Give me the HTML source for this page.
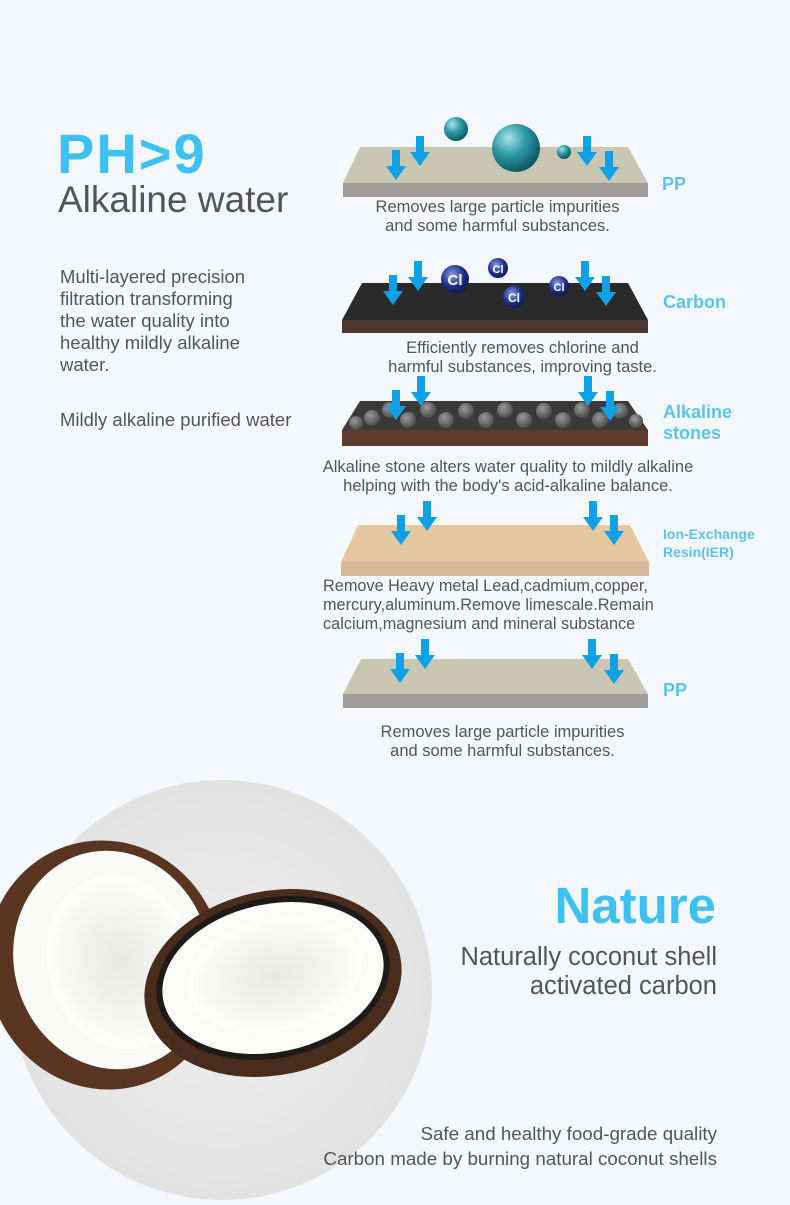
<!DOCTYPE html>
<html><head><meta charset="utf-8"><style>
body{margin:0;width:790px;height:1205px;background:#f4f8fc;position:relative;overflow:hidden;font-family:"Liberation Sans",sans-serif;}
.t{position:absolute;color:#555;white-space:nowrap}
.c{text-align:center}
.b{position:absolute;color:#5bc3ee;font-weight:bold}
</style></head><body>
<svg width="790" height="1205" style="position:absolute;left:0;top:0">
<defs>
<radialGradient id="circ" cx="0.5" cy="0.5" r="0.5"><stop offset="0" stop-color="#f0f0f0"/><stop offset="1" stop-color="#e2e2e2"/></radialGradient>
<radialGradient id="ball" cx="0.35" cy="0.3" r="0.7"><stop offset="0" stop-color="#a8e4e6"/><stop offset="0.5" stop-color="#2e9aa6"/><stop offset="1" stop-color="#0f5a66"/></radialGradient>
<radialGradient id="cl" cx="0.4" cy="0.35" r="0.7"><stop offset="0" stop-color="#8a9ee0"/><stop offset="0.6" stop-color="#1e2f8a"/><stop offset="1" stop-color="#0b164f"/></radialGradient>
<radialGradient id="stone" cx="0.4" cy="0.35" r="0.7"><stop offset="0" stop-color="#9a9a9a"/><stop offset="1" stop-color="#444"/></radialGradient>
<radialGradient id="flesh" cx="0.5" cy="0.5" r="0.5"><stop offset="0" stop-color="#e8e8e6"/><stop offset="0.8" stop-color="#f8f8f6"/><stop offset="1" stop-color="#fff"/></radialGradient>
<g id="arr"><rect x="-4" y="0" width="8" height="17" fill="#0ea1e6"/><polygon points="-10,16 10,16 0,30" fill="#0ea1e6"/></g>
</defs>
<circle cx="222" cy="990" r="210" fill="url(#circ)"/>
<polygon points="360,147 628,147 648,183 343,183" fill="#c9c6b2"/>
<rect x="343" y="183" width="305" height="14" fill="#a09d98"/>
<circle cx="456" cy="129" r="12" fill="url(#ball)"/>
<circle cx="516" cy="148" r="24" fill="url(#ball)"/>
<circle cx="564" cy="152" r="7" fill="url(#ball)"/>
<use href="#arr" x="420" y="136"/><use href="#arr" x="396" y="150"/><use href="#arr" x="587" y="136"/><use href="#arr" x="609" y="151"/>
<polygon points="362,283 628,283 648,320 342,320" fill="#2a2a2a"/>
<rect x="342" y="320" width="306" height="13" fill="#4a3530"/>
<circle cx="455" cy="279" r="14" fill="url(#cl)"/><text x="455" y="285" fill="#fff" font-size="15" text-anchor="middle" font-weight="bold">Cl</text>
<circle cx="498" cy="268" r="10" fill="url(#cl)"/><text x="498" y="273" fill="#fff" font-size="11" text-anchor="middle" font-weight="bold">Cl</text>
<circle cx="514" cy="297" r="11" fill="url(#cl)"/><text x="514" y="302" fill="#fff" font-size="12" text-anchor="middle" font-weight="bold">Cl</text>
<circle cx="559" cy="286" r="10" fill="url(#cl)"/><text x="559" y="291" fill="#fff" font-size="11" text-anchor="middle" font-weight="bold">Cl</text>
<use href="#arr" x="418" y="261"/><use href="#arr" x="393" y="275"/><use href="#arr" x="585" y="261"/><use href="#arr" x="606" y="276"/>
<polygon points="360,401 628,401 648,430 342,430" fill="#3a3a3a"/>
<g fill="url(#stone)">
<circle cx="372" cy="418" r="8"/><circle cx="390" cy="410" r="8"/><circle cx="408" cy="420" r="8"/><circle cx="428" cy="410" r="8"/><circle cx="446" cy="420" r="8"/><circle cx="466" cy="411" r="8"/><circle cx="486" cy="420" r="8"/><circle cx="505" cy="410" r="8"/><circle cx="524" cy="420" r="8"/><circle cx="544" cy="411" r="8"/><circle cx="563" cy="420" r="8"/><circle cx="582" cy="410" r="8"/><circle cx="600" cy="420" r="8"/><circle cx="620" cy="411" r="8"/><circle cx="636" cy="421" r="7"/><circle cx="356" cy="423" r="7"/>
</g>
<rect x="342" y="430" width="306" height="16" fill="#5e3b2c"/>
<use href="#arr" x="421" y="376"/><use href="#arr" x="396" y="390"/><use href="#arr" x="588" y="376"/><use href="#arr" x="610" y="391"/>
<polygon points="358,525 630,525 649,562 341,562" fill="#e4c9a0"/>
<rect x="341" y="562" width="308" height="14" fill="#d8b89a"/>
<use href="#arr" x="427" y="501"/><use href="#arr" x="401" y="515"/><use href="#arr" x="593" y="501"/><use href="#arr" x="614" y="515"/>
<polygon points="361,659 628,659 648,694 343,694" fill="#c9c6b2"/>
<rect x="343" y="694" width="305" height="14" fill="#a09d98"/>
<use href="#arr" x="425" y="639"/><use href="#arr" x="400" y="653"/><use href="#arr" x="592" y="639"/><use href="#arr" x="614" y="654"/>
<ellipse cx="105" cy="965" rx="118" ry="125" transform="rotate(-15 105 965)" fill="#5a3522"/>
<ellipse cx="112" cy="960" rx="98" ry="110" transform="rotate(-15 112 960)" fill="#fafaf8"/>
<ellipse cx="120" cy="962" rx="72" ry="88" transform="rotate(-15 120 962)" fill="url(#flesh)"/>
<ellipse cx="273" cy="983" rx="130" ry="92" transform="rotate(-12 273 983)" fill="#4a2c1c"/>
<ellipse cx="273" cy="978" rx="118" ry="80" transform="rotate(-12 273 978)" fill="#1e1a18"/>
<ellipse cx="273" cy="978" rx="112" ry="74" transform="rotate(-12 273 978)" fill="#fbfbf9"/>
<ellipse cx="275" cy="975" rx="88" ry="56" transform="rotate(-12 275 975)" fill="url(#flesh)"/>
</svg>
<div class="b" style="left:57px;top:121px;font-size:56px;letter-spacing:2px;color:#3cc1f0">PH&gt;9</div>
<div class="t" style="left:58px;top:179px;font-size:37px;color:#555">Alkaline water</div>
<div class="t" style="left:60px;top:266px;font-size:18.5px;line-height:22px;color:#555">Multi-layered precision<br>filtration transforming<br>the water quality into<br>healthy mildly alkaline<br>water.</div>
<div class="t" style="left:60px;top:409px;font-size:18.5px">Mildly alkaline purified water</div>
<div class="t c" style="left:335px;width:325px;top:198px;font-size:16.5px;line-height:19px">Removes large particle impurities<br>and some harmful substances.</div>
<div class="b" style="left:662px;top:174px;font-size:18px">PP</div>
<div class="t c" style="left:365px;width:315px;top:339px;font-size:16.5px;line-height:19px">Efficiently removes chlorine and<br>harmful substances, improving taste.</div>
<div class="b" style="left:663px;top:292px;font-size:18px">Carbon</div>
<div class="t c" style="left:298px;width:420px;top:458px;font-size:16.5px;line-height:19px">Alkaline stone alters water quality to mildly alkaline<br>helping with the body's acid-alkaline balance.</div>
<div class="b" style="left:663px;top:402px;font-size:18px;line-height:21px">Alkaline<br>stones</div>
<div class="t" style="left:323px;top:577px;font-size:16.3px;line-height:19px">Remove Heavy metal Lead,cadmium,copper,<br>mercury,aluminum.Remove limescale.Remain<br>calcium,magnesium and mineral substance</div>
<div class="b" style="left:663px;top:525px;font-size:14px;line-height:18px">Ion-Exchange<br>Resin(IER)</div>
<div class="b" style="left:663px;top:680px;font-size:18px">PP</div>
<div class="t c" style="left:340px;width:325px;top:723px;font-size:16.5px;line-height:19px">Removes large particle impurities<br>and some harmful substances.</div>
<div class="b" style="right:74px;top:876px;font-size:51px;color:#3cc1f0">Nature</div>
<div class="t" style="right:73px;top:943px;font-size:25.5px;line-height:29px;text-align:right">Naturally coconut shell<br>activated carbon</div>
<div class="t" style="right:73px;top:1121px;font-size:18.8px;line-height:25px;text-align:right">Safe and healthy food-grade quality<br>Carbon made by burning natural coconut shells</div>
</body></html>
